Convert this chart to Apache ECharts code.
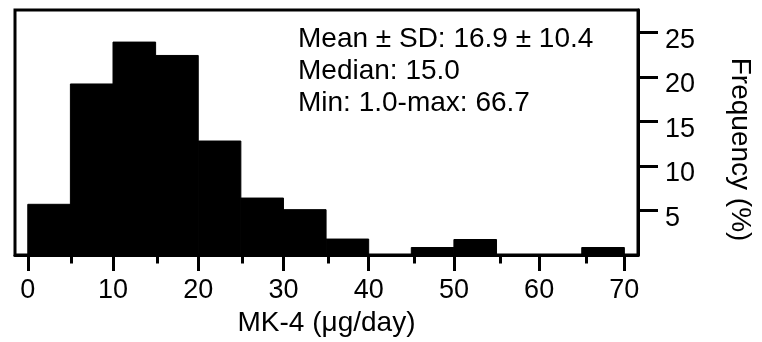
<!DOCTYPE html>
<html>
<head>
<meta charset="utf-8">
<script src="https://cdn.jsdelivr.net/npm/echarts@6/dist/echarts.min.js"></script>
<style>
html,body{margin:0;padding:0;background:#fff;}
#chart{width:762px;height:342px;}
</style>
</head>
<body>
<div id="chart"></div>
<script>
// Histogram bins (µg/day), bin width 5
var binStarts = [0, 5, 10, 15, 20, 25, 30, 35, 40, 45, 50, 55, 60, 65];
var binWidth = 5;
// Frequency (%) per bin
var frequency = [5.7, 19.2, 23.9, 22.4, 12.8, 6.4, 5.1, 1.8, 0, 0.85, 1.75, 0, 0, 0.85];
// Tick labels
var xMajorTicks = [0, 10, 20, 30, 40, 50, 60, 70];
var xMinorTicks = [5, 15, 25, 35, 45, 55, 65];
var yTicks = [5, 10, 15, 20, 25];
var statsLines = ['Mean ± SD: 16.9 ± 10.4', 'Median: 15.0', 'Min: 1.0-max: 66.7'];

var FONT = '"Liberation Sans", Arial, Helvetica, sans-serif';
var FS = 27;
var FS_TXT = 28;

var histData = binStarts.map(function (s, i) { return [s, s + binWidth, frequency[i]]; });

var gridBox = { left: 15, right: 119, top: 10, bottom: 86.5 };

var chart = echarts.init(document.getElementById('chart'), null, { renderer: 'canvas' });
chart.setOption({
  backgroundColor: '#fff',
  animation: false,
  title: {
    text: statsLines.join('\n'),
    left: 293,
    top: 18,
    textStyle: { fontFamily: FONT, fontSize: FS_TXT, fontWeight: 'normal', color: '#000', lineHeight: 32 }
  },
  grid: [
    Object.assign({ show: true, borderColor: '#000', borderWidth: 3, backgroundColor: 'transparent' }, gridBox),
    Object.assign({ show: false }, gridBox)
  ],
  xAxis: [
    {
      type: 'value', gridIndex: 0, min: -1.5, max: 71.6, position: 'bottom',
      name: 'MK-4 (μg/day)', nameLocation: 'middle', nameGap: 52,
      nameTextStyle: { fontFamily: FONT, fontSize: FS_TXT, color: '#000' },
      axisLine: { show: true, onZero: false, lineStyle: { color: '#000', width: 3 } },
      axisTick: { show: true, customValues: xMajorTicks, length: 16, lineStyle: { color: '#000', width: 3 } },
      axisLabel: { show: true, customValues: xMajorTicks, margin: 22, fontFamily: FONT, fontSize: FS, color: '#000' },
      splitLine: { show: false }
    },
    {
      type: 'value', gridIndex: 1, min: -1.5, max: 71.6, position: 'bottom',
      axisLine: { show: false, onZero: false },
      axisTick: { show: true, customValues: xMinorTicks, length: 8, lineStyle: { color: '#000', width: 3 } },
      axisLabel: { show: false },
      splitLine: { show: false }
    }
  ],
  yAxis: [
    {
      type: 'value', gridIndex: 0, min: 0, max: 27.5, position: 'right',
      name: 'Frequency (%)', nameLocation: 'middle', nameGap: 88, nameRotate: -90,
      nameTextStyle: { fontFamily: FONT, fontSize: FS_TXT, color: '#000', padding: [0, 0, 0, 34] },
      axisLine: { show: true, onZero: false, lineStyle: { color: '#000', width: 3 } },
      axisTick: { show: true, customValues: yTicks, length: 20, lineStyle: { color: '#000', width: 3 } },
      axisLabel: { show: true, customValues: yTicks, margin: 27, fontFamily: FONT, fontSize: FS, color: '#000', verticalAlign: 'top', lineHeight: 16 },
      splitLine: { show: false }
    },
    {
      type: 'value', gridIndex: 1, min: 0, max: 27.5, show: false
    }
  ],
  series: [{
    type: 'custom',
    xAxisIndex: 0,
    yAxisIndex: 0,
    data: histData,
    encode: { x: [0, 1], y: 2 },
    renderItem: function (params, api) {
      var v = api.value(2);
      if (!v) return null;
      var p0 = api.coord([api.value(0), 0]);
      var p1 = api.coord([api.value(1), v]);
      return {
        type: 'rect',
        shape: { x: p0[0], y: p1[1], width: p1[0] - p0[0], height: p0[1] - p1[1] },
        style: { fill: '#000', stroke: '#000', lineWidth: 1 }
      };
    }
  }]
});
</script>
</body>
</html>
